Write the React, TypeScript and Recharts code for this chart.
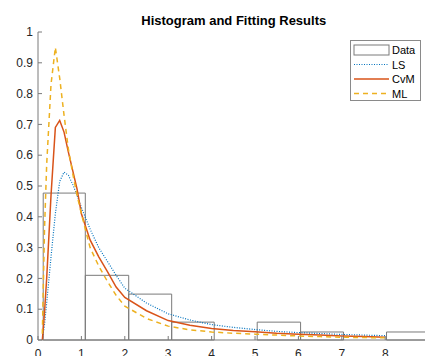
import {
  ComposedChart,
  Line,
  XAxis,
  YAxis,
  ReferenceArea,
} from "recharts";

// evaluation grid of the fitted densities
const xGrid = [
  0.1, 0.15, 0.2, 0.3, 0.4, 0.5, 0.6, 0.7, 0.8, 0.9, 1.0, 1.2, 1.4, 1.6, 1.8,
  2.0, 2.5, 3, 3.5, 4, 4.5, 5, 5.5, 6, 6.5, 7, 7.5, 8,
];
const lsPdf = [
  0, 0.05, 0.12, 0.27, 0.41, 0.515, 0.545, 0.535, 0.505, 0.47, 0.43, 0.36,
  0.3, 0.255, 0.21, 0.168, 0.12, 0.085, 0.065, 0.05, 0.041, 0.034, 0.028,
  0.024, 0.021, 0.018, 0.016, 0.014,
];
const cvmPdf = [
  0, 0.09, 0.2, 0.47, 0.69, 0.713, 0.675, 0.61, 0.55, 0.49, 0.41, 0.325, 0.27,
  0.222, 0.172, 0.138, 0.095, 0.063, 0.048, 0.037, 0.031, 0.027, 0.022, 0.019,
  0.016, 0.013, 0.011, 0.009,
];
const mlPdf = [
  0.02, 0.36, 0.57, 0.83, 0.95, 0.85, 0.73, 0.62, 0.54, 0.47, 0.41, 0.3, 0.24,
  0.19, 0.145, 0.11, 0.07, 0.045, 0.033, 0.026, 0.022, 0.019, 0.016, 0.013,
  0.011, 0.009, 0.008, 0.007,
];

// histogram (normalized)
const binEdges = [0.12, 1.09, 2.09, 3.08, 4.06, 5.05, 6.05, 7.04, 8.03, 9.02];
const binHeights = [0.477, 0.21, 0.149, 0.058, 0, 0.058, 0.026, 0, 0.026];

const xTicks = [0, 1, 2, 3, 4, 5, 6, 7, 8];
const yTicks = [0, 0.1, 0.2, 0.3, 0.4, 0.5, 0.6, 0.7, 0.8, 0.9, 1];

const legendItems = ["Data", "LS", "CvM", "ML"];

const rows = xGrid.map((x, i) => ({
  x,
  ls: lsPdf[i],
  cvm: cvmPdf[i],
  ml: mlPdf[i],
}));

const FONT = "'Liberation Sans', Arial, Helvetica, sans-serif";
const AXIS = "#7a7a7a";
const TEXT = "#262626";
const BLUE = "#0072BD";
const ORANGE = "#D95319";
const YELLOW = "#EDB120";

function LegendBox() {
  return (
    <div
      style={{
        position: "absolute",
        left: 350,
        top: 40,
        width: 69,
        height: 59,
        border: "1px solid #8a8a8a",
        background: "#fff",
        fontFamily: FONT,
        fontSize: 11,
        color: "#000",
      }}
    >
      <svg width={69} height={59} style={{ position: "absolute", left: 0, top: 0 }}>
        <rect x={3} y={4} width={35} height={10} fill="#fff" stroke="#7a7a7a" />
        <line x1={3} x2={38} y1={23.5} y2={23.5} stroke={BLUE} strokeWidth={1.2} strokeDasharray="1 1.5" />
        <line x1={3} x2={38} y1={38} y2={38} stroke={ORANGE} strokeWidth={1.5} />
        <line x1={3} x2={38} y1={52.5} y2={52.5} stroke={YELLOW} strokeWidth={1.5} strokeDasharray="5 4" />
        {legendItems.map((t, i) => (
          <text key={t} x={41} y={9 + i * 14.5} dominantBaseline="central" fontSize={11} fontFamily={FONT}>
            {t}
          </text>
        ))}
      </svg>
    </div>
  );
}

export default function App() {
  return (
    <div
      style={{
        position: "absolute",
        left: 0,
        top: 0,
        width: 425,
        height: 356,
        overflow: "hidden",
        background: "#fff",
      }}
    >
      <div
        style={{
          position: "absolute",
          left: 38,
          width: 391.5,
          top: 13,
          textAlign: "center",
          fontFamily: FONT,
          fontWeight: "bold",
          fontSize: 13,
          color: "#000",
          whiteSpace: "nowrap",
        }}
      >
        Histogram and Fitting Results
      </div>
      <ComposedChart
        width={440}
        height={356}
        data={rows}
        margin={{ top: 32, right: 10.5, left: 0, bottom: 0 }}
      >
        <XAxis
          dataKey="x"
          type="number"
          domain={[0, 9.02]}
          ticks={xTicks}
          allowDataOverflow
          height={16}
          stroke={AXIS}
          tickSize={-4}
          tickMargin={13}
          tick={{ fill: TEXT, fontSize: 12, fontFamily: FONT }}
        />
        <XAxis
          xAxisId="top"
          orientation="top"
          dataKey="x"
          type="number"
          domain={[0, 9.02]}
          ticks={xTicks}
          height={0}
          stroke={AXIS}
          tickSize={-4}
          tickFormatter={() => ""}
        />
        <YAxis
          type="number"
          domain={[0, 1]}
          ticks={yTicks}
          width={38}
          stroke={AXIS}
          tickSize={-4}
          tickMargin={9}
          tick={{ fill: TEXT, fontSize: 12, fontFamily: FONT }}
        />
        {binHeights.map((h, i) => (
          <ReferenceArea
            key={i}
            x1={binEdges[i]}
            x2={binEdges[i + 1]}
            y1={0}
            y2={h}
            fill="none"
            stroke="#7a7a7a"
            strokeWidth={1}
            ifOverflow="visible"
          />
        ))}
        <Line
          type="linear"
          dataKey="ls"
          stroke={BLUE}
          strokeWidth={1.2}
          strokeDasharray="1 1.5"
          dot={false}
          isAnimationActive={false}
        />
        <Line
          type="linear"
          dataKey="cvm"
          stroke={ORANGE}
          strokeWidth={1.5}
          dot={false}
          isAnimationActive={false}
        />
        <Line
          type="linear"
          dataKey="ml"
          stroke={YELLOW}
          strokeWidth={1.5}
          strokeDasharray="5 4"
          dot={false}
          isAnimationActive={false}
        />
      </ComposedChart>
      <LegendBox />
    </div>
  );
}
